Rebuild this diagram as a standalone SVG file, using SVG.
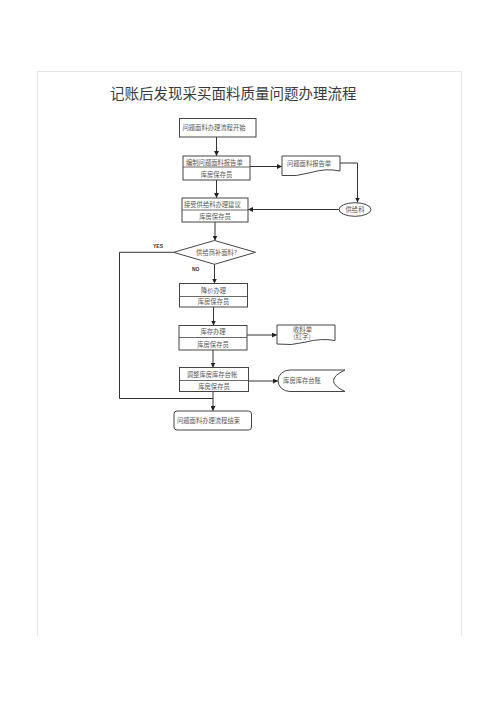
<svg xmlns="http://www.w3.org/2000/svg" width="500" height="707" viewBox="0 0 500 707">
<style>
.box{fill:#fff;stroke:#444;stroke-width:1}
.div{stroke:#444;stroke-width:0.8}
.t{font-family:"Noto Sans CJK SC","Liberation Serif",serif;font-size:6.3px;fill:#555}
.c{text-anchor:middle}
.lbl{font-family:"Liberation Sans",sans-serif;font-size:5px;font-weight:bold;fill:#333}
.ln{fill:none;stroke:#333;stroke-width:1}
.title{font-family:"Noto Sans CJK SC","Liberation Serif",serif;font-size:14.5px;fill:#3a3a3a}
</style>
<defs>
<marker id="ah" viewBox="0 0 10 10" refX="10" refY="5" markerWidth="5" markerHeight="5" orient="auto" markerUnits="userSpaceOnUse">
<path d="M0,0 L10,5 L0,10 Z" fill="#222"/>
</marker>
</defs>
<rect width="500" height="707" fill="#fff"/>
<g id="page" stroke="#e6e6e6" stroke-width="1.2" fill="none">
<path d="M37.5,636 V71.5 H461.5 V636"/>
</g>
<text class="title" x="110" y="98.5">记账后发现采买面料质量问题办理流程</text>

<g id="connectors">
<line class="ln" x1="216.5" y1="137" x2="216.5" y2="156" marker-end="url(#ah)"/>
<line class="ln" x1="250" y1="166.5" x2="282" y2="166.5" marker-end="url(#ah)"/>
<polyline class="ln" points="340,163 357.5,163 357.5,202.5" marker-end="url(#ah)"/>
<line class="ln" x1="216.5" y1="180" x2="216.5" y2="198" marker-end="url(#ah)"/>
<line class="ln" x1="339" y1="209.5" x2="248" y2="209.5" marker-end="url(#ah)"/>
<line class="ln" x1="215" y1="222" x2="215" y2="240.5" marker-end="url(#ah)"/>
<line class="ln" x1="214.5" y1="264.3" x2="214.5" y2="283.5" marker-end="url(#ah)"/>
<polyline class="ln" points="173.5,252.3 119.5,252.3 119.5,398.5 213,398.5"/>
<line class="ln" x1="213.5" y1="307" x2="213.5" y2="325.5" marker-end="url(#ah)"/>
<line class="ln" x1="247" y1="335" x2="277" y2="335" marker-end="url(#ah)"/>
<line class="ln" x1="213" y1="350" x2="213" y2="367.5" marker-end="url(#ah)"/>
<line class="ln" x1="248.5" y1="381" x2="278" y2="381" marker-end="url(#ah)"/>
<line class="ln" x1="213" y1="391.5" x2="213" y2="411" marker-end="url(#ah)"/>
<text class="lbl" x="153" y="247.5">YES</text>
<text class="lbl" x="192" y="270.5">NO</text>
</g>

<g id="start">
<rect class="box" x="179.5" y="118.5" width="76.5" height="18.5"/>
<text class="t" x="182.5" y="130">问题面料办理流程开始</text>
</g>
<g id="report">
<rect class="box" x="183" y="156" width="67" height="24"/>
<line class="div" x1="183" y1="167" x2="250" y2="167"/>
<text class="t" x="186" y="164.5">编制问题面料报告单</text>
<text class="t c" x="216.5" y="176.5">库房保存员</text>
</g>
<g id="reportdoc">
<path class="box" d="M282,156 H340 V171 Q326,168 311,172.5 Q296,177 282,175.5 Z"/>
<text class="t" x="287" y="165.5">问题面料报告单</text>
</g>
<g id="supplier">
<ellipse class="box" cx="355" cy="209.5" rx="16" ry="6.8"/>
<text class="t c" x="355" y="211.8">供给科</text>
</g>
<g id="accept">
<rect class="box" x="182" y="198" width="66" height="24"/>
<line class="div" x1="182" y1="210" x2="248" y2="210"/>
<text class="t" x="184" y="206.8">接受供给科办理建议</text>
<text class="t c" x="215" y="219">库房保存员</text>
</g>
<g id="decision">
<polygon class="box" points="173.5,252.3 214.5,240.5 255.5,252.3 214.5,264.3"/>
<text class="t c" x="216.5" y="254.5">供给商补面料?</text>
</g>
<g id="discount">
<rect class="box" x="179.5" y="283.5" width="68" height="23.5"/>
<line class="div" x1="179.5" y1="296.5" x2="247.5" y2="296.5"/>
<text class="t c" x="213.5" y="292.5">降价办理</text>
<text class="t c" x="213.5" y="304.3">库房保存员</text>
</g>
<g id="stock">
<rect class="box" x="179" y="325.5" width="68" height="24.5"/>
<line class="div" x1="179" y1="337.5" x2="247" y2="337.5"/>
<text class="t c" x="213" y="334.3">库存办理</text>
<text class="t c" x="213" y="346.5">库房保存员</text>
</g>
<g id="receipt">
<path class="box" d="M277,325 H335 V340.5 Q321,338 306,342 Q291,346 277,344 Z"/>
<text class="t c" x="302.5" y="331.8">收料单</text>
<text class="t c" x="302" y="339.3">（红字）</text>
</g>
<g id="adjust">
<rect class="box" x="179.5" y="367.5" width="69" height="24"/>
<line class="div" x1="179.5" y1="380.5" x2="248.5" y2="380.5"/>
<text class="t c" x="212" y="377">调整库房库存台帐</text>
<text class="t c" x="214" y="389">库房保存员</text>
</g>
<g id="ledger">
<path class="box" d="M290,370 H345 Q322,380.7 345,391.5 H290 A12,10.75 0 0 1 290,370 Z"/>
<text class="t c" x="302" y="383">库房库存台账</text>
</g>
<g id="end">
<rect class="box" x="174" y="411" width="77.5" height="19" rx="3" ry="3"/>
<text class="t" x="177" y="423">问题面料办理流程结束</text>
</g>
</svg>
